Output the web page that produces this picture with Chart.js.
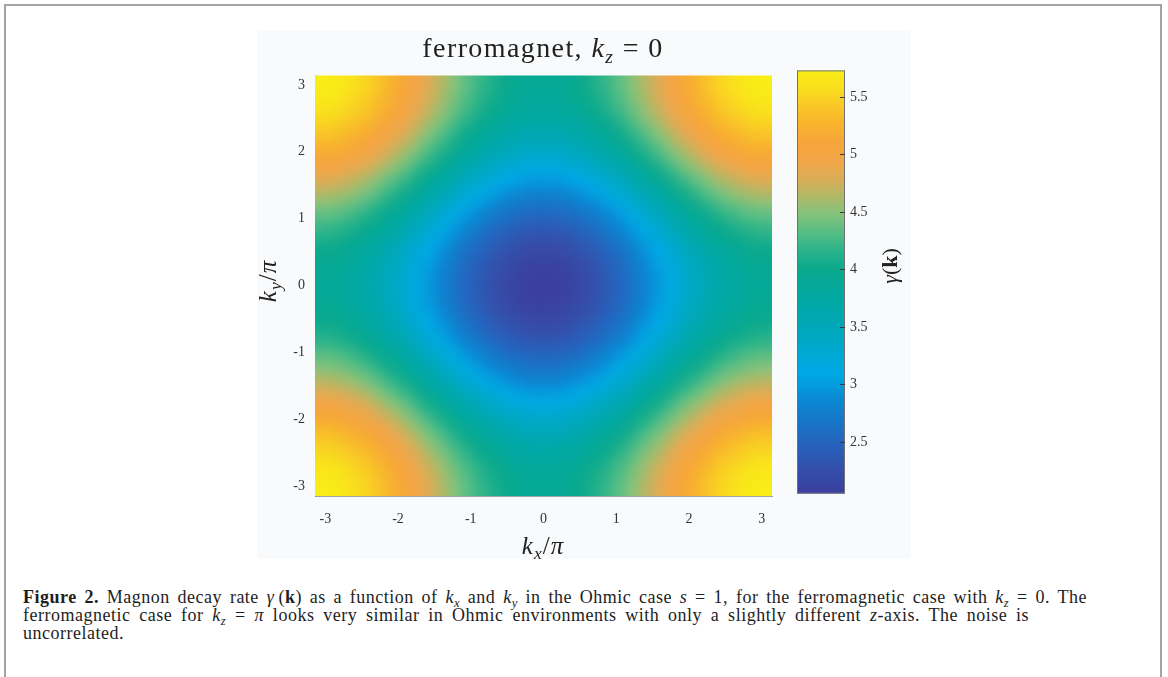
<!DOCTYPE html>
<html>
<head>
<meta charset="utf-8">
<title>ferromagnet, kz = 0</title>
<script src="https://cdn.jsdelivr.net/npm/chart.js@4.4.1/dist/chart.umd.min.js"></script>
<style>
  body { margin: 0; width: 1168px; height: 677px; overflow: hidden; background: #fff; position: relative; }
  #frame { position: absolute; left: 4px; top: 4px; width: 1154px; height: 700px; border: 2px solid #a3a3a3; border-bottom: none; }
  #figbg { position: absolute; left: 257px; top: 31px; width: 654px; height: 528px; background: #f9fafb; }
  canvas { position: absolute; }
  #heatmap { left: 250px; top: 57px; }
  #colorbar { left: 790px; top: 57px; }
  .lbl { position: absolute; font-family: "Liberation Serif", serif; color: #222; text-align: center; white-space: nowrap; }
  .lbl sub, .cap sub { font-size: 70%; vertical-align: -0.3em; line-height: 0; }
  #title { left: 293px; top: 33px; width: 500px; font-size: 28px; line-height: 30px; letter-spacing: 1.4px; }
  #xlabel { left: 443px; top: 532px; width: 200px; font-size: 25px; line-height: 28px; letter-spacing: 1px; }
  #ylabel { left: 168px; top: 267px; width: 200px; font-size: 25px; line-height: 28px; letter-spacing: 1px; transform: rotate(-90deg); }
  #cblabel { left: 790px; top: 252px; width: 200px; font-size: 22px; line-height: 28px; transform: rotate(-90deg); }
  .eq { margin: 0 0.3em; }
  .cap { position: absolute; left: 23px; font-family: "Liberation Serif", serif; font-size: 18px; line-height: 18px; letter-spacing: 0.5px; color: #1e1e1e; white-space: normal; }
  .just { text-align: justify; text-align-last: justify; }
  #cap1 { top: 588px; width: 1064px; }
  #cap2 { top: 606px; width: 1006px; }
  #cap3 { top: 624px; }
</style>
</head>
<body>
<div id="frame"></div>
<div id="figbg"></div>
<canvas id="heatmap" width="535" height="480"></canvas>
<canvas id="colorbar" width="100" height="450"></canvas>
<div id="title" class="lbl">ferromagnet, <i>k<sub>z</sub></i><span class="eq">=</span>0</div>
<div id="xlabel" class="lbl"><i>k<sub>x</sub></i>/<i>π</i></div>
<div id="ylabel" class="lbl"><i>k<sub>y</sub></i>/<i>π</i></div>
<div id="cblabel" class="lbl"><i>γ</i>(<b>k</b>)</div>
<div id="cap1" class="cap just"><b>Figure 2.</b> Magnon decay rate <i>γ</i>&thinsp;(<b>k</b>) as a function of <i>k<sub>x</sub></i> and <i>k<sub>y</sub></i> in the Ohmic case <i>s</i> = 1, for the ferromagnetic case with <i>k<sub>z</sub></i> = 0. The</div>
<div id="cap2" class="cap just">ferromagnetic case for <i>k<sub>z</sub></i> = <i>π</i> looks very similar in Ohmic environments with only a slightly different <i>z</i>-axis. The noise is</div>
<div id="cap3" class="cap">uncorrelated.</div>
<script>
// grid positions (radians), ticks and colour bar range
const kxGrid = [-3.1416, -2.9671, -2.7925, -2.6180, -2.4435, -2.2689, -2.0944, -1.9199, -1.7453, -1.5708, -1.3963, -1.2217, -1.0472, -0.8727, -0.6981, -0.5236, -0.3491, -0.1745, 0, 0.1745, 0.3491, 0.5236, 0.6981, 0.8727, 1.0472, 1.2217, 1.3963, 1.5708, 1.7453, 1.9199, 2.0944, 2.2689, 2.4435, 2.6180, 2.7925, 2.9671, 3.1416];
const kyGrid = [-3.1416, -2.9671, -2.7925, -2.6180, -2.4435, -2.2689, -2.0944, -1.9199, -1.7453, -1.5708, -1.3963, -1.2217, -1.0472, -0.8727, -0.6981, -0.5236, -0.3491, -0.1745, 0, 0.1745, 0.3491, 0.5236, 0.6981, 0.8727, 1.0472, 1.2217, 1.3963, 1.5708, 1.7453, 1.9199, 2.0944, 2.2689, 2.4435, 2.6180, 2.7925, 2.9671, 3.1416];
const axisTicks = [-3, -2, -1, 0, 1, 2, 3];
const cbTicks = [2.5, 3, 3.5, 4, 4.5, 5, 5.5];
const cbMin = 2.05;
const cbMax = 5.73;

// gamma(k), one row per ky (bottom to top), one value per kx (left to right)
const gammaRows = [
  [5.73, 5.72, 5.68, 5.61, 5.52, 5.40, 5.27, 5.13, 4.97, 4.81, 4.65, 4.50, 4.35, 4.22, 4.11, 4.01, 3.95, 3.90, 3.89, 3.90, 3.95, 4.01, 4.11, 4.22, 4.35, 4.50, 4.65, 4.81, 4.97, 5.13, 5.27, 5.40, 5.52, 5.61, 5.68, 5.72, 5.73],
  [5.72, 5.70, 5.66, 5.59, 5.50, 5.39, 5.26, 5.11, 4.96, 4.80, 4.64, 4.48, 4.34, 4.20, 4.09, 4.00, 3.93, 3.89, 3.88, 3.89, 3.93, 4.00, 4.09, 4.20, 4.34, 4.48, 4.64, 4.80, 4.96, 5.11, 5.26, 5.39, 5.50, 5.59, 5.66, 5.70, 5.72],
  [5.68, 5.66, 5.62, 5.55, 5.46, 5.35, 5.22, 5.07, 4.92, 4.76, 4.60, 4.44, 4.30, 4.16, 4.05, 3.96, 3.89, 3.85, 3.84, 3.85, 3.89, 3.96, 4.05, 4.16, 4.30, 4.44, 4.60, 4.76, 4.92, 5.07, 5.22, 5.35, 5.46, 5.55, 5.62, 5.66, 5.68],
  [5.61, 5.59, 5.55, 5.48, 5.39, 5.28, 5.15, 5.00, 4.85, 4.69, 4.53, 4.37, 4.23, 4.10, 3.98, 3.89, 3.82, 3.78, 3.77, 3.78, 3.82, 3.89, 3.98, 4.10, 4.23, 4.37, 4.53, 4.69, 4.85, 5.00, 5.15, 5.28, 5.39, 5.48, 5.55, 5.59, 5.61],
  [5.52, 5.50, 5.46, 5.39, 5.30, 5.19, 5.06, 4.91, 4.76, 4.60, 4.44, 4.28, 4.14, 4.00, 3.89, 3.80, 3.73, 3.69, 3.68, 3.69, 3.73, 3.80, 3.89, 4.00, 4.14, 4.28, 4.44, 4.60, 4.76, 4.91, 5.06, 5.19, 5.30, 5.39, 5.46, 5.50, 5.52],
  [5.40, 5.39, 5.35, 5.28, 5.19, 5.07, 4.94, 4.80, 4.64, 4.48, 4.32, 4.17, 4.02, 3.89, 3.78, 3.69, 3.62, 3.58, 3.56, 3.58, 3.62, 3.69, 3.78, 3.89, 4.02, 4.17, 4.32, 4.48, 4.64, 4.80, 4.94, 5.07, 5.19, 5.28, 5.35, 5.39, 5.40],
  [5.27, 5.26, 5.22, 5.15, 5.06, 4.94, 4.81, 4.67, 4.51, 4.35, 4.19, 4.04, 3.89, 3.76, 3.65, 3.55, 3.49, 3.44, 3.43, 3.44, 3.49, 3.55, 3.65, 3.76, 3.89, 4.04, 4.19, 4.35, 4.51, 4.67, 4.81, 4.94, 5.06, 5.15, 5.22, 5.26, 5.27],
  [5.13, 5.11, 5.07, 5.00, 4.91, 4.80, 4.67, 4.52, 4.37, 4.21, 4.05, 3.89, 3.75, 3.61, 3.50, 3.41, 3.34, 3.30, 3.29, 3.30, 3.34, 3.41, 3.50, 3.61, 3.75, 3.89, 4.05, 4.21, 4.37, 4.52, 4.67, 4.80, 4.91, 5.00, 5.07, 5.11, 5.13],
  [4.97, 4.96, 4.92, 4.85, 4.76, 4.64, 4.51, 4.37, 4.21, 4.05, 3.89, 3.74, 3.59, 3.46, 3.35, 3.25, 3.19, 3.14, 3.13, 3.14, 3.19, 3.25, 3.35, 3.46, 3.59, 3.74, 3.89, 4.05, 4.21, 4.37, 4.51, 4.64, 4.76, 4.85, 4.92, 4.96, 4.97],
  [4.81, 4.80, 4.76, 4.69, 4.60, 4.48, 4.35, 4.21, 4.05, 3.89, 3.73, 3.58, 3.43, 3.30, 3.19, 3.09, 3.03, 2.98, 2.97, 2.98, 3.03, 3.09, 3.19, 3.30, 3.43, 3.58, 3.73, 3.89, 4.05, 4.21, 4.35, 4.48, 4.60, 4.69, 4.76, 4.80, 4.81],
  [4.65, 4.64, 4.60, 4.53, 4.44, 4.32, 4.19, 4.05, 3.89, 3.73, 3.57, 3.42, 3.27, 3.14, 3.03, 2.93, 2.87, 2.82, 2.81, 2.82, 2.87, 2.93, 3.03, 3.14, 3.27, 3.42, 3.57, 3.73, 3.89, 4.05, 4.19, 4.32, 4.44, 4.53, 4.60, 4.64, 4.65],
  [4.50, 4.48, 4.44, 4.37, 4.28, 4.17, 4.04, 3.89, 3.74, 3.58, 3.42, 3.26, 3.12, 2.98, 2.87, 2.78, 2.71, 2.67, 2.66, 2.67, 2.71, 2.78, 2.87, 2.98, 3.12, 3.26, 3.42, 3.58, 3.74, 3.89, 4.04, 4.17, 4.28, 4.37, 4.44, 4.48, 4.50],
  [4.35, 4.34, 4.30, 4.23, 4.14, 4.02, 3.89, 3.75, 3.59, 3.43, 3.27, 3.12, 2.97, 2.84, 2.73, 2.63, 2.57, 2.52, 2.51, 2.52, 2.57, 2.63, 2.73, 2.84, 2.97, 3.12, 3.27, 3.43, 3.59, 3.75, 3.89, 4.02, 4.14, 4.23, 4.30, 4.34, 4.35],
  [4.22, 4.20, 4.16, 4.10, 4.00, 3.89, 3.76, 3.61, 3.46, 3.30, 3.14, 2.98, 2.84, 2.71, 2.59, 2.50, 2.43, 2.39, 2.38, 2.39, 2.43, 2.50, 2.59, 2.71, 2.84, 2.98, 3.14, 3.30, 3.46, 3.61, 3.76, 3.89, 4.00, 4.10, 4.16, 4.20, 4.22],
  [4.11, 4.09, 4.05, 3.98, 3.89, 3.78, 3.65, 3.50, 3.35, 3.19, 3.03, 2.87, 2.73, 2.59, 2.48, 2.39, 2.32, 2.28, 2.27, 2.28, 2.32, 2.39, 2.48, 2.59, 2.73, 2.87, 3.03, 3.19, 3.35, 3.50, 3.65, 3.78, 3.89, 3.98, 4.05, 4.09, 4.11],
  [4.01, 4.00, 3.96, 3.89, 3.80, 3.69, 3.55, 3.41, 3.25, 3.09, 2.93, 2.78, 2.63, 2.50, 2.39, 2.30, 2.23, 2.19, 2.17, 2.19, 2.23, 2.30, 2.39, 2.50, 2.63, 2.78, 2.93, 3.09, 3.25, 3.41, 3.55, 3.69, 3.80, 3.89, 3.96, 4.00, 4.01],
  [3.95, 3.93, 3.89, 3.82, 3.73, 3.62, 3.49, 3.34, 3.19, 3.03, 2.87, 2.71, 2.57, 2.43, 2.32, 2.23, 2.16, 2.12, 2.11, 2.12, 2.16, 2.23, 2.32, 2.43, 2.57, 2.71, 2.87, 3.03, 3.19, 3.34, 3.49, 3.62, 3.73, 3.82, 3.89, 3.93, 3.95],
  [3.90, 3.89, 3.85, 3.78, 3.69, 3.58, 3.44, 3.30, 3.14, 2.98, 2.82, 2.67, 2.52, 2.39, 2.28, 2.19, 2.12, 2.08, 2.06, 2.08, 2.12, 2.19, 2.28, 2.39, 2.52, 2.67, 2.82, 2.98, 3.14, 3.30, 3.44, 3.58, 3.69, 3.78, 3.85, 3.89, 3.90],
  [3.89, 3.88, 3.84, 3.77, 3.68, 3.56, 3.43, 3.29, 3.13, 2.97, 2.81, 2.66, 2.51, 2.38, 2.27, 2.17, 2.11, 2.06, 2.05, 2.06, 2.11, 2.17, 2.27, 2.38, 2.51, 2.66, 2.81, 2.97, 3.13, 3.29, 3.43, 3.56, 3.68, 3.77, 3.84, 3.88, 3.89],
  [3.90, 3.89, 3.85, 3.78, 3.69, 3.58, 3.44, 3.30, 3.14, 2.98, 2.82, 2.67, 2.52, 2.39, 2.28, 2.19, 2.12, 2.08, 2.06, 2.08, 2.12, 2.19, 2.28, 2.39, 2.52, 2.67, 2.82, 2.98, 3.14, 3.30, 3.44, 3.58, 3.69, 3.78, 3.85, 3.89, 3.90],
  [3.95, 3.93, 3.89, 3.82, 3.73, 3.62, 3.49, 3.34, 3.19, 3.03, 2.87, 2.71, 2.57, 2.43, 2.32, 2.23, 2.16, 2.12, 2.11, 2.12, 2.16, 2.23, 2.32, 2.43, 2.57, 2.71, 2.87, 3.03, 3.19, 3.34, 3.49, 3.62, 3.73, 3.82, 3.89, 3.93, 3.95],
  [4.01, 4.00, 3.96, 3.89, 3.80, 3.69, 3.55, 3.41, 3.25, 3.09, 2.93, 2.78, 2.63, 2.50, 2.39, 2.30, 2.23, 2.19, 2.17, 2.19, 2.23, 2.30, 2.39, 2.50, 2.63, 2.78, 2.93, 3.09, 3.25, 3.41, 3.55, 3.69, 3.80, 3.89, 3.96, 4.00, 4.01],
  [4.11, 4.09, 4.05, 3.98, 3.89, 3.78, 3.65, 3.50, 3.35, 3.19, 3.03, 2.87, 2.73, 2.59, 2.48, 2.39, 2.32, 2.28, 2.27, 2.28, 2.32, 2.39, 2.48, 2.59, 2.73, 2.87, 3.03, 3.19, 3.35, 3.50, 3.65, 3.78, 3.89, 3.98, 4.05, 4.09, 4.11],
  [4.22, 4.20, 4.16, 4.10, 4.00, 3.89, 3.76, 3.61, 3.46, 3.30, 3.14, 2.98, 2.84, 2.71, 2.59, 2.50, 2.43, 2.39, 2.38, 2.39, 2.43, 2.50, 2.59, 2.71, 2.84, 2.98, 3.14, 3.30, 3.46, 3.61, 3.76, 3.89, 4.00, 4.10, 4.16, 4.20, 4.22],
  [4.35, 4.34, 4.30, 4.23, 4.14, 4.02, 3.89, 3.75, 3.59, 3.43, 3.27, 3.12, 2.97, 2.84, 2.73, 2.63, 2.57, 2.52, 2.51, 2.52, 2.57, 2.63, 2.73, 2.84, 2.97, 3.12, 3.27, 3.43, 3.59, 3.75, 3.89, 4.02, 4.14, 4.23, 4.30, 4.34, 4.35],
  [4.50, 4.48, 4.44, 4.37, 4.28, 4.17, 4.04, 3.89, 3.74, 3.58, 3.42, 3.26, 3.12, 2.98, 2.87, 2.78, 2.71, 2.67, 2.66, 2.67, 2.71, 2.78, 2.87, 2.98, 3.12, 3.26, 3.42, 3.58, 3.74, 3.89, 4.04, 4.17, 4.28, 4.37, 4.44, 4.48, 4.50],
  [4.65, 4.64, 4.60, 4.53, 4.44, 4.32, 4.19, 4.05, 3.89, 3.73, 3.57, 3.42, 3.27, 3.14, 3.03, 2.93, 2.87, 2.82, 2.81, 2.82, 2.87, 2.93, 3.03, 3.14, 3.27, 3.42, 3.57, 3.73, 3.89, 4.05, 4.19, 4.32, 4.44, 4.53, 4.60, 4.64, 4.65],
  [4.81, 4.80, 4.76, 4.69, 4.60, 4.48, 4.35, 4.21, 4.05, 3.89, 3.73, 3.58, 3.43, 3.30, 3.19, 3.09, 3.03, 2.98, 2.97, 2.98, 3.03, 3.09, 3.19, 3.30, 3.43, 3.58, 3.73, 3.89, 4.05, 4.21, 4.35, 4.48, 4.60, 4.69, 4.76, 4.80, 4.81],
  [4.97, 4.96, 4.92, 4.85, 4.76, 4.64, 4.51, 4.37, 4.21, 4.05, 3.89, 3.74, 3.59, 3.46, 3.35, 3.25, 3.19, 3.14, 3.13, 3.14, 3.19, 3.25, 3.35, 3.46, 3.59, 3.74, 3.89, 4.05, 4.21, 4.37, 4.51, 4.64, 4.76, 4.85, 4.92, 4.96, 4.97],
  [5.13, 5.11, 5.07, 5.00, 4.91, 4.80, 4.67, 4.52, 4.37, 4.21, 4.05, 3.89, 3.75, 3.61, 3.50, 3.41, 3.34, 3.30, 3.29, 3.30, 3.34, 3.41, 3.50, 3.61, 3.75, 3.89, 4.05, 4.21, 4.37, 4.52, 4.67, 4.80, 4.91, 5.00, 5.07, 5.11, 5.13],
  [5.27, 5.26, 5.22, 5.15, 5.06, 4.94, 4.81, 4.67, 4.51, 4.35, 4.19, 4.04, 3.89, 3.76, 3.65, 3.55, 3.49, 3.44, 3.43, 3.44, 3.49, 3.55, 3.65, 3.76, 3.89, 4.04, 4.19, 4.35, 4.51, 4.67, 4.81, 4.94, 5.06, 5.15, 5.22, 5.26, 5.27],
  [5.40, 5.39, 5.35, 5.28, 5.19, 5.07, 4.94, 4.80, 4.64, 4.48, 4.32, 4.17, 4.02, 3.89, 3.78, 3.69, 3.62, 3.58, 3.56, 3.58, 3.62, 3.69, 3.78, 3.89, 4.02, 4.17, 4.32, 4.48, 4.64, 4.80, 4.94, 5.07, 5.19, 5.28, 5.35, 5.39, 5.40],
  [5.52, 5.50, 5.46, 5.39, 5.30, 5.19, 5.06, 4.91, 4.76, 4.60, 4.44, 4.28, 4.14, 4.00, 3.89, 3.80, 3.73, 3.69, 3.68, 3.69, 3.73, 3.80, 3.89, 4.00, 4.14, 4.28, 4.44, 4.60, 4.76, 4.91, 5.06, 5.19, 5.30, 5.39, 5.46, 5.50, 5.52],
  [5.61, 5.59, 5.55, 5.48, 5.39, 5.28, 5.15, 5.00, 4.85, 4.69, 4.53, 4.37, 4.23, 4.10, 3.98, 3.89, 3.82, 3.78, 3.77, 3.78, 3.82, 3.89, 3.98, 4.10, 4.23, 4.37, 4.53, 4.69, 4.85, 5.00, 5.15, 5.28, 5.39, 5.48, 5.55, 5.59, 5.61],
  [5.68, 5.66, 5.62, 5.55, 5.46, 5.35, 5.22, 5.07, 4.92, 4.76, 4.60, 4.44, 4.30, 4.16, 4.05, 3.96, 3.89, 3.85, 3.84, 3.85, 3.89, 3.96, 4.05, 4.16, 4.30, 4.44, 4.60, 4.76, 4.92, 5.07, 5.22, 5.35, 5.46, 5.55, 5.62, 5.66, 5.68],
  [5.72, 5.70, 5.66, 5.59, 5.50, 5.39, 5.26, 5.11, 4.96, 4.80, 4.64, 4.48, 4.34, 4.20, 4.09, 4.00, 3.93, 3.89, 3.88, 3.89, 3.93, 4.00, 4.09, 4.20, 4.34, 4.48, 4.64, 4.80, 4.96, 5.11, 5.26, 5.39, 5.50, 5.59, 5.66, 5.70, 5.72],
  [5.73, 5.72, 5.68, 5.61, 5.52, 5.40, 5.27, 5.13, 4.97, 4.81, 4.65, 4.50, 4.35, 4.22, 4.11, 4.01, 3.95, 3.90, 3.89, 3.90, 3.95, 4.01, 4.11, 4.22, 4.35, 4.50, 4.65, 4.81, 4.97, 5.13, 5.27, 5.40, 5.52, 5.61, 5.68, 5.72, 5.73]
];

// colour map as seen on the colour bar (fraction of range -> colour)
const colorStops = [
  [0.000, '#3b3e9d'], [0.063, '#3351ac'], [0.123, '#2465bf'], [0.180, '#1479c9'],
  [0.226, '#0a8ad3'], [0.258, '#039ddf'], [0.284, '#00a9e5'], [0.330, '#00a8d3'],
  [0.388, '#00a8bb'], [0.458, '#00a8a2'], [0.530, '#0aa98d'], [0.574, '#2ab38a'],
  [0.616, '#55bd84'], [0.665, '#88c27a'], [0.702, '#b0b866'], [0.742, '#d9ad58'],
  [0.784, '#f2a648'], [0.830, '#f6a53a'], [0.877, '#f8b52c'], [0.923, '#f9cb25'],
  [0.958, '#f9de1d'], [1.000, '#f9ee16']
];

const tickFont = { family: 'Liberation Serif', size: 14 };
const tickColor = '#333';

function hexToRgb(h) {
  return [parseInt(h.slice(1, 3), 16), parseInt(h.slice(3, 5), 16), parseInt(h.slice(5, 7), 16)];
}

function colorFor(v) {
  const t = Math.min(1, Math.max(0, (v - cbMin) / (cbMax - cbMin)));
  for (let i = 1; i < colorStops.length; i++) {
    if (t <= colorStops[i][0]) {
      const [t0, h0] = colorStops[i - 1];
      const [t1, h1] = colorStops[i];
      const f = (t - t0) / (t1 - t0);
      const a = hexToRgb(h0), b = hexToRgb(h1);
      return 'rgb(' + a.map((c, k) => Math.round(c + (b[k] - c) * f)).join(',') + ')';
    }
  }
  return colorStops[colorStops.length - 1][1];
}

// one point per grid cell
const cells = [];
kyGrid.forEach((ky, j) => {
  kxGrid.forEach((kx, i) => {
    cells.push({ x: kx, y: ky, v: gammaRows[j][i], i, j });
  });
});

// paints every cell as a rectangle placed through the chart scales,
// on a side canvas that is then softened like shaded contour output
const heatmapCells = {
  id: 'heatmapCells',
  beforeDatasetsDraw(chart) {
    const { ctx, chartArea, scales: { x, y } } = chart;
    const hx = (kxGrid[1] - kxGrid[0]) / 2;
    const hy = (kyGrid[1] - kyGrid[0]) / 2;
    const last = kxGrid.length - 1;
    const off = document.createElement('canvas');
    off.width = chart.width;
    off.height = chart.height;
    const octx = off.getContext('2d');
    chart.data.datasets[0].data.forEach(p => {
      // outer cells are stretched past the frame so the softening keeps full colour at the edge
      const left = p.i === 0 ? 6 * hx : hx;
      const right = p.i === last ? 6 * hx : hx;
      const below = p.j === 0 ? 6 * hy : hy;
      const above = p.j === last ? 6 * hy : hy;
      const x0 = Math.floor(x.getPixelForValue(p.x - left));
      const x1 = Math.ceil(x.getPixelForValue(p.x + right));
      const y0 = Math.floor(y.getPixelForValue(p.y + above));
      const y1 = Math.ceil(y.getPixelForValue(p.y - below));
      octx.fillStyle = colorFor(p.v);
      octx.fillRect(x0, y0, x1 - x0, y1 - y0);
    });
    ctx.save();
    ctx.beginPath();
    ctx.rect(chartArea.left, chartArea.top, chartArea.width, chartArea.height);
    ctx.clip();
    ctx.filter = 'blur(5px)';
    ctx.drawImage(off, 0, 0);
    ctx.restore();
  }
};

new Chart(document.getElementById('heatmap').getContext('2d'), {
  type: 'scatter',
  data: {
    datasets: [{ label: 'γ(k)', data: cells, pointRadius: 0, pointHoverRadius: 0 }]
  },
  options: {
    responsive: false,
    animation: false,
    events: [],
    layout: { padding: { top: 10, right: 13, left: 0, bottom: 0 } },
    plugins: { legend: { display: false }, tooltip: { enabled: false } },
    scales: {
      x: {
        type: 'linear',
        min: -Math.PI,
        max: Math.PI,
        afterBuildTicks: s => { s.ticks = axisTicks.map(v => ({ value: v })); },
        afterFit: s => { s.height = 41; },
        grid: { display: false, drawTicks: false },
        border: { display: true, color: 'rgba(90,90,90,0.55)', width: 1 },
        ticks: { font: tickFont, color: tickColor, padding: 15, maxRotation: 0, callback: v => String(v) }
      },
      y: {
        type: 'linear',
        min: -Math.PI,
        max: Math.PI,
        afterBuildTicks: s => { s.ticks = axisTicks.map(v => ({ value: v })); },
        afterFit: s => { s.width = 65; },
        grid: { display: false, drawTicks: false },
        border: { display: true, color: 'rgba(90,90,90,0.35)', width: 1 },
        ticks: { font: tickFont, color: tickColor, padding: 10, callback: v => String(v) }
      }
    }
  },
  plugins: [heatmapCells]
});

// colour bar: gradient along the value scale, frame and inner tick marks
const colorBarFill = {
  id: 'colorBarFill',
  beforeDatasetsDraw(chart) {
    const { ctx, chartArea, scales: { y } } = chart;
    const yBottom = y.getPixelForValue(cbMin);
    const yTop = y.getPixelForValue(cbMax);
    const grad = ctx.createLinearGradient(0, yBottom, 0, yTop);
    colorStops.forEach(([t, c]) => grad.addColorStop(t, c));
    ctx.save();
    ctx.fillStyle = grad;
    ctx.fillRect(chartArea.left, yTop, chartArea.width, yBottom - yTop);
    ctx.strokeStyle = '#6f7378';
    ctx.lineWidth = 1;
    ctx.strokeRect(chartArea.left + 0.5, yTop + 0.5, chartArea.width - 1, yBottom - yTop - 1);
    ctx.strokeStyle = '#3c3c3c';
    cbTicks.forEach(v => {
      const py = Math.round(y.getPixelForValue(v)) + 0.5;
      ctx.beginPath();
      ctx.moveTo(chartArea.right - 5, py);
      ctx.lineTo(chartArea.right, py);
      ctx.stroke();
    });
    ctx.restore();
  }
};

new Chart(document.getElementById('colorbar').getContext('2d'), {
  type: 'scatter',
  data: { datasets: [{ label: 'colour bar', data: [], pointRadius: 0 }] },
  options: {
    responsive: false,
    animation: false,
    events: [],
    layout: { padding: { top: 10, bottom: 10, left: 7, right: 0 } },
    plugins: { legend: { display: false }, tooltip: { enabled: false } },
    scales: {
      x: { type: 'linear', min: 0, max: 1, display: false },
      y: {
        type: 'linear',
        position: 'right',
        min: cbMin,
        max: cbMax,
        afterBuildTicks: s => { s.ticks = cbTicks.map(v => ({ value: v })); },
        afterFit: s => { s.width = 45; },
        grid: { display: false, drawTicks: false },
        border: { display: false },
        ticks: { font: tickFont, color: tickColor, padding: 5, callback: v => String(v) }
      }
    }
  },
  plugins: [colorBarFill]
});
</script>
</body>
</html>
